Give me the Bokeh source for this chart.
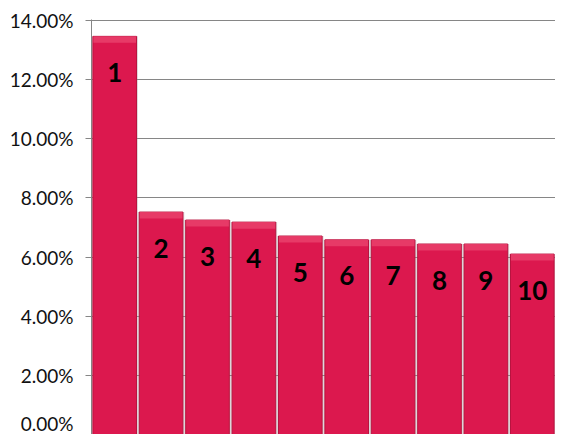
from bokeh.plotting import figure
from bokeh.models import Range1d, NumeralTickFormatter, ColumnDataSource, FixedTicker
from bokeh.core.properties import value
from bokeh.embed import file_html
from bokeh.resources import INLINE

ranks = [1, 2, 3, 4, 5, 6, 7, 8, 9, 10]
labels = ["1", "2", "3", "4", "5", "6", "7", "8", "9", "10"]
shares = [0.1346, 0.0752, 0.0725, 0.0718, 0.0671, 0.0658, 0.0658, 0.0644, 0.0644, 0.0610]
y_ticks = [0.0, 0.02, 0.04, 0.06, 0.08, 0.10, 0.12, 0.14]

cap = 0.0022
src = ColumnDataSource(dict(
    x=ranks, top=shares, label=labels,
    cap_bottom=[v - cap for v in shares],
))

p = figure(width=555, height=434, output_backend="svg", toolbar_location=None,
           x_range=Range1d(0.5, 10.5), y_range=Range1d(0, 0.1403),
           min_border_left=91, min_border_right=0, min_border_top=19, min_border_bottom=0)
p.outline_line_color = None
p.background_fill_color = "white"
p.border_fill_color = "white"

# shadow between bars
p.vbar(x="x", top="top", bottom=0, width=1.0, source=src,
       fill_color="#9a7f89", fill_alpha=0.35, line_color=None)
# main bar
p.vbar(x="x", top="top", bottom=0, width=0.94, source=src,
       fill_color="#DC184E", line_color="#B8143F", line_width=1)
# bevel cap
p.vbar(x="x", top="top", bottom="cap_bottom", width=0.92, source=src,
       fill_color="#E9416C", fill_alpha=0.85, line_color=None)

p.text(x="x", y="top", text="label", source=src, text_align="center",
       text_baseline="middle", y_offset=36, text_font=value("Lato"),
       text_font_style="bold", text_font_size="26px", text_color="black")

p.xaxis.visible = False
p.xgrid.visible = False
p.ygrid.grid_line_color = "#868686"
p.ygrid.grid_line_width = 1
p.ygrid.level = "underlay"

ya = p.yaxis[0]
ya.ticker = FixedTicker(ticks=y_ticks)
ya.formatter = NumeralTickFormatter(format="0.00%")
ya.axis_line_color = "#868686"
ya.major_tick_line_color = "#868686"
ya.major_tick_in = 0
ya.major_tick_out = 6
ya.minor_tick_line_color = None
ya.major_label_standoff = 12
ya.major_label_text_font = "Lato"
ya.major_label_text_font_size = "19px"
ya.major_label_text_color = "#111111"

open("out.html", "w").write(file_html(p, INLINE))
